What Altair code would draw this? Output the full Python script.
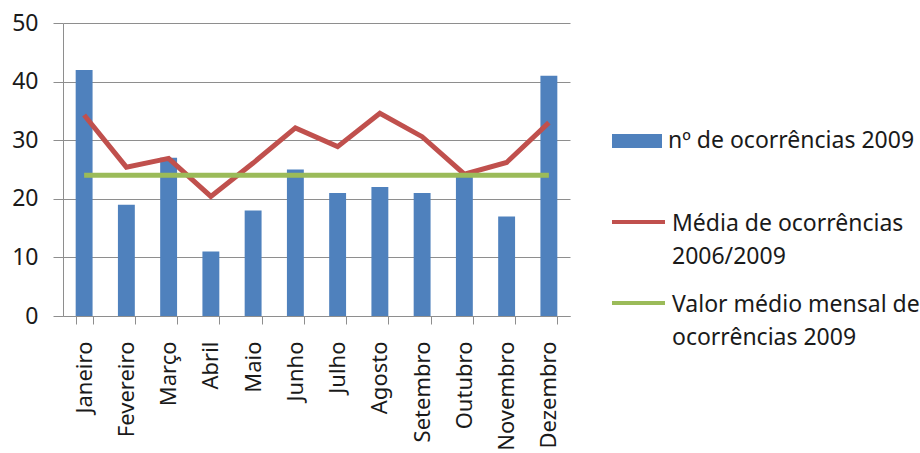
import altair as alt
import pandas as pd

meses = ["Janeiro", "Fevereiro", "Março", "Abril", "Maio", "Junho",
         "Julho", "Agosto", "Setembro", "Outubro", "Novembro", "Dezembro"]
ocorrencias_2009 = [42, 19, 27, 11, 18, 25, 21, 22, 21, 24, 17, 41]
media_2006_2009 = [34.3, 25.4, 26.9, 20.4, 26.1, 32.1, 28.9, 34.6, 30.6, 24.2, 26.2, 33.0]
valor_medio_2009 = [24] * 12

serie_barras = "nº de ocorrências 2009"
serie_media = "Média  de ocorrências 2006/2009"
serie_valor = "Valor médio mensal de ocorrências 2009"

df = pd.DataFrame({
    "mes": meses,
    "n": ocorrencias_2009,
    "media": media_2006_2009,
    "valor": valor_medio_2009,
    "s_bar": [serie_barras] * 12,
    "s_media": [serie_media] * 12,
    "s_valor": [serie_valor] * 12,
})

FONT = "Noto Sans"
GRAY = "#8e8e8e"

x_enc = alt.X("mes:N", sort=meses, title=None,
              scale=alt.Scale(paddingInner=0.6, paddingOuter=0.3))
y_scale = alt.Scale(domain=[0, 50])

bars = alt.Chart(df).mark_bar(color="#4F81BD").encode(
    x=x_enc,
    y=alt.Y("n:Q", scale=y_scale, title=None,
            axis=alt.Axis(values=[0, 10, 20, 30, 40, 50], labelFontSize=23)),
    fill=alt.Fill("s_bar:N", scale=alt.Scale(domain=[serie_barras], range=["#4F81BD"]),
                  legend=alt.Legend(title=None, orient="none", legendX=549, legendY=93,
                                    symbolType="M-1,-0.28H1V0.28H-1Z", symbolSize=2500,
                                    symbolStrokeWidth=0, labelOffset=6, labelLimit=400,
                                    padding=0, labelBaseline="middle")),
)

line_media = alt.Chart(df).mark_line(strokeWidth=5).encode(
    x=x_enc,
    y=alt.Y("media:Q", scale=y_scale),
    stroke=alt.Stroke("s_media:N", scale=alt.Scale(domain=[serie_media], range=["#C0504D"]),
                      legend=alt.Legend(title=None, orient="none", legendX=547, legendY=161,
                                        symbolType="M-1,0.36H1", symbolSize=2809,
                                        symbolStrokeWidth=4, labelOffset=5, labelLimit=400,
                                        padding=0, labelBaseline="top",
                                        labelExpr="datum.label == 'Média  de ocorrências 2006/2009' ? ['Média  de ocorrências', '2006/2009'] : datum.label")),
)

line_valor = alt.Chart(df).mark_line(strokeWidth=5).encode(
    x=x_enc,
    y=alt.Y("valor:Q", scale=y_scale),
    color=alt.Color("s_valor:N", scale=alt.Scale(domain=[serie_valor], range=["#9BBB59"]),
                    legend=alt.Legend(title=None, orient="none", legendX=547, legendY=242,
                                      symbolType="M-1,0.36H1", symbolSize=2809,
                                      symbolStrokeWidth=4, labelOffset=5, labelLimit=400,
                                      padding=0, labelBaseline="top",
                                      labelExpr="datum.label == 'Valor médio mensal de ocorrências 2009' ? ['Valor médio mensal de', 'ocorrências 2009'] : datum.label")),
)

chart = alt.layer(bars, line_media, line_valor).resolve_scale(
    fill="independent", stroke="independent", color="independent"
).properties(
    width=507, height=293,
    autosize=alt.AutoSizeParams(type="none"),
    padding={"left": 63, "top": 23, "right": 350, "bottom": 137},
).configure(
    style={"guide-label": {"lineHeight": 33}}
).configure_view(stroke=None).configure_axis(
    labelFont=FONT, labelFontSize=22, labelColor="#1a1a1a",
    domainColor=GRAY, tickColor=GRAY, gridColor=GRAY, domainWidth=1, tickWidth=1,
).configure_axisX(
    labelAngle=270, tickBand="extent", tickSize=8, labelPadding=17, grid=False,
).configure_axisY(
    tickSize=10, labelPadding=15, grid=True,
).configure_legend(
    labelFont=FONT, labelFontSize=23, labelColor="#1a1a1a",
)

chart.save("out.html", embed_options={"renderer": "svg", "actions": False})
